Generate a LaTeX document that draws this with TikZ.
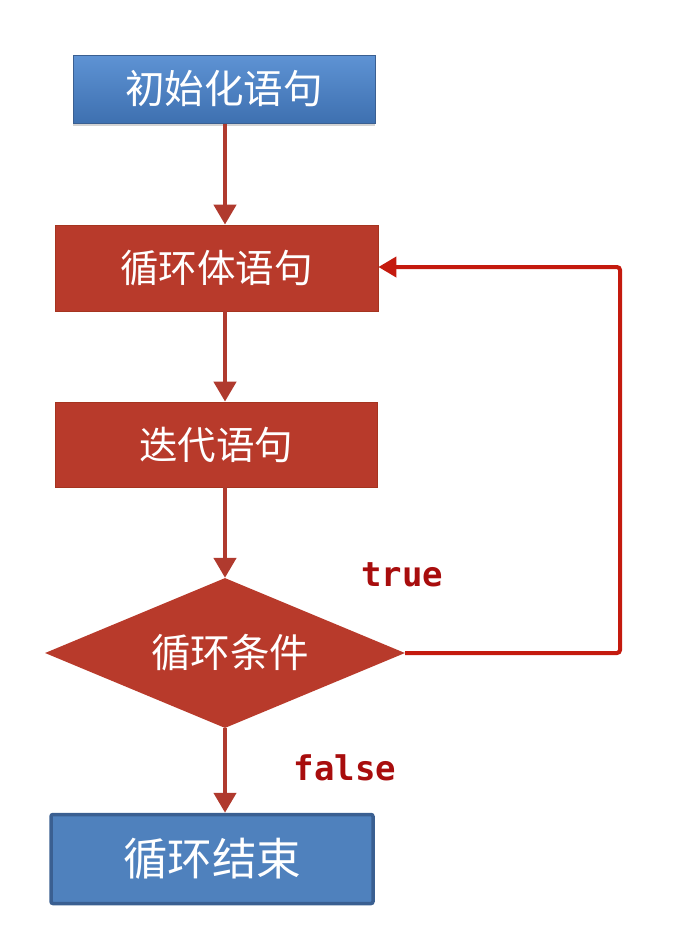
\documentclass[tikz,border=0pt]{standalone}
\usepackage{fontspec}
\newfontfamily\cjk{Noto Sans CJK SC}
\newfontfamily\monob{DejaVu Sans Mono}
\usetikzlibrary{shapes.geometric,arrows.meta,shadows}
\definecolor{redfill}{HTML}{B83A2B}
\definecolor{rededge}{HTML}{A5341F}
\definecolor{redline}{HTML}{B03A2E}
\definecolor{loopline}{HTML}{C41A0E}
\definecolor{labelred}{HTML}{A80D0D}
\definecolor{bluefill}{HTML}{4F81BD}
\definecolor{bluetop}{HTML}{5E93D4}
\definecolor{bluebot}{HTML}{3E70B0}
\definecolor{blueedge}{HTML}{3A5F91}
\tikzset{
  redbox/.style={rectangle, fill=redfill, draw=rededge, line width=0.8pt, text=white, font=\cjk\fontsize{38.5}{44}\selectfont, inner sep=0pt},
  bluebox/.style={rectangle, text=white, inner sep=0pt},
  flowarrow/.style={draw=redline, line width=4.5pt, -{Triangle[length=20pt,width=22pt]}},
  looparrow/.style={draw=loopline, line width=4pt, rounded corners=3pt, -{Triangle[length=18pt,width=20pt]}},
  lbl/.style={text=labelred, font=\monob\bfseries\fontsize{34}{38}\selectfont, inner sep=0pt}
}
\begin{document}
\begin{tikzpicture}[x=1pt,y=-1pt]
\useasboundingbox (0,0) rectangle (687,948);
\node[bluebox, minimum width=302pt, minimum height=68pt, top color=bluetop, bottom color=bluebot, draw=blueedge, line width=1pt,
  drop shadow={shadow xshift=0pt, shadow yshift=-3pt, opacity=0.35},
  font=\cjk\fontsize{39.5}{44}\selectfont] (init) at (224,89) {初始化语句};
\node[redbox, minimum width=323pt, minimum height=86pt] (body) at (216.5,268) {循环体语句};
\node[redbox, minimum width=322pt, minimum height=85pt] (iter) at (216,444.5) {迭代语句};
\node[diamond, fill=redfill, inner sep=0pt,
  minimum width=360pt, minimum height=150pt, aspect=2.4] (cond) at (225,653) {};
\node[text=white, font=\cjk\fontsize{39.5}{44}\selectfont, inner sep=0pt, xshift=5pt] (condtext) at (cond.center) {循环条件};
\node[bluebox, minimum width=322pt, minimum height=89pt, fill=bluefill, draw=blueedge, line width=3.5pt, rounded corners=2pt,
  font=\cjk\fontsize{44.5}{50}\selectfont] (end) at (212,859) {循环结束};
\coordinate (c1) at (620,653);
\coordinate (c2) at (620,267);
\draw[flowarrow] (init.south -| cond.north) -- (body.north -| cond.north);
\draw[flowarrow] (body.south -| cond.north) -- (iter.north -| cond.north);
\draw[flowarrow] (iter.south -| cond.north) -- (cond.north);
\draw[flowarrow] (cond.south) -- (end.north -| cond.south);
\draw[looparrow] (cond.east) -- (c1) -- (c2) -- (body.east |- c2);
\node[lbl, anchor=center] (t) at (402,575) {true};
\node[lbl, anchor=center] (f) at (345,768) {false};
\end{tikzpicture}
\end{document}
